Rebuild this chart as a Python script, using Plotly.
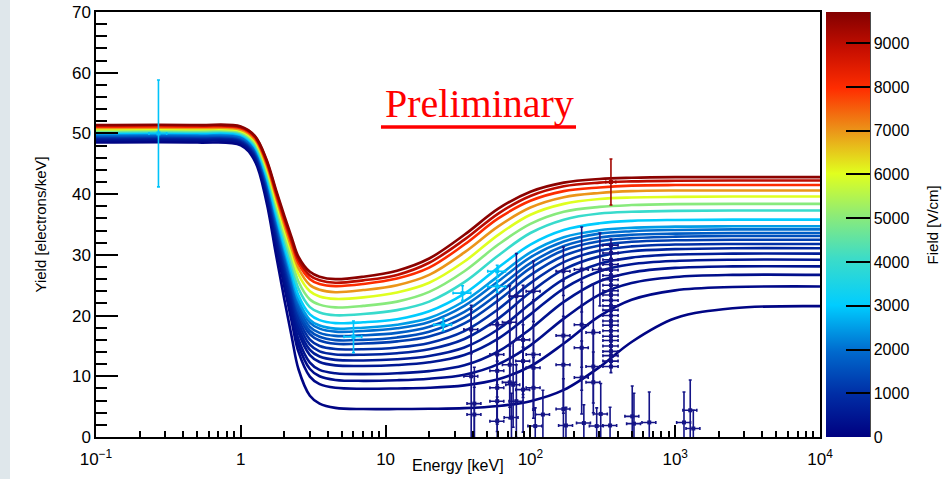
import plotly.graph_objects as go
from plotly.colors import sample_colorscale

# ---------------- data ----------------
ENERGY = [0.1, 0.5, 1.0, 1.25, 1.5, 1.75, 2.0, 2.25, 2.5, 3.0, 3.5, 4.5,
          7, 12, 20, 35, 60, 100, 170, 300, 500, 1000, 2500, 10000]

y_9600 = [51.4, 51.4, 51.15, 49.6, 45.8, 40.7, 36.4, 32.8, 29.7, 27.2, 26.4, 26.0, 26.4, 27.4, 29.4, 33.3, 37.6, 40.4, 41.9, 42.5, 42.7, 42.8, 42.8, 42.8]
y_9000 = [51.3, 51.3, 51.0, 49.5, 45.6, 40.4, 36.0, 32.3, 29.2, 26.6, 25.8, 25.4, 25.8, 26.7, 28.7, 32.5, 36.8, 39.7, 41.3, 41.9, 42.1, 42.2, 42.25, 42.25]
y_8000 = [51.1, 51.1, 50.85, 49.25, 45.3, 40.0, 35.5, 31.8, 28.65, 26.0, 25.2, 24.85, 25.2, 26.1, 27.9, 31.7, 36.0, 38.9, 40.5, 41.1, 41.4, 41.5, 41.5, 41.5]
y_7000 = [50.9, 50.9, 50.6, 49.0, 44.9, 39.5, 34.85, 31.0, 27.8, 25.05, 24.25, 23.85, 24.2, 25.0, 26.7, 30.4, 34.7, 37.8, 39.5, 40.2, 40.5, 40.6, 40.6, 40.6]
y_6000 = [50.7, 50.7, 50.4, 48.75, 44.5, 38.9, 34.1, 30.2, 26.8, 24.0, 23.15, 22.75, 23.0, 23.8, 25.4, 28.9, 33.3, 36.6, 38.4, 39.2, 39.45, 39.55, 39.6, 39.6]
y_5000 = [50.5, 50.5, 50.2, 48.45, 44.05, 38.2, 33.2, 29.1, 25.6, 22.65, 21.8, 21.35, 21.6, 22.3, 23.9, 27.3, 31.7, 35.1, 37.1, 37.9, 38.2, 38.35, 38.4, 38.4]
y_4000 = [50.3, 50.3, 50.0, 48.15, 43.6, 37.55, 32.35, 28.1, 24.45, 21.4, 20.5, 20.05, 20.25, 20.9, 22.3, 25.5, 29.9, 33.6, 35.8, 36.8, 37.1, 37.25, 37.3, 37.3]
y_3000 = [50.1, 50.1, 49.8, 47.9, 43.15, 36.85, 31.5, 27.1, 23.35, 20.2, 19.25, 18.75, 18.9, 19.4, 20.7, 23.6, 27.9, 31.7, 34.1, 35.2, 35.6, 35.75, 35.8, 35.8]
y_2500 = [50.0, 50.0, 49.7, 47.75, 42.9, 36.45, 30.95, 26.4, 22.55, 19.3, 18.35, 17.85, 18.0, 18.5, 19.6, 22.4, 26.5, 30.4, 32.9, 34.05, 34.45, 34.65, 34.7, 34.7]
y_2000 = [49.8, 49.8, 49.45, 47.5, 42.65, 36.1, 30.55, 26.0, 22.1, 18.85, 17.85, 17.35, 17.45, 17.9, 18.95, 21.6, 25.65, 29.6, 32.2, 33.5, 33.9, 34.1, 34.2, 34.2]
y_1750 = [49.7, 49.7, 49.35, 47.4, 42.4, 35.75, 30.1, 25.45, 21.5, 18.15, 17.15, 16.65, 16.75, 17.15, 18.15, 20.6, 24.6, 28.65, 31.45, 32.85, 33.3, 33.5, 33.6, 33.6]
y_1500 = [49.6, 49.6, 49.25, 47.25, 42.15, 35.4, 29.65, 24.95, 20.85, 17.5, 16.5, 15.95, 16.0, 16.4, 17.35, 19.7, 23.6, 27.8, 30.75, 32.25, 32.75, 33.0, 33.1, 33.1]
y_1250 = [49.5, 49.5, 49.15, 47.1, 41.95, 35.1, 29.25, 24.45, 20.35, 16.9, 15.9, 15.35, 15.4, 15.75, 16.55, 18.7, 22.5, 26.65, 29.85, 31.55, 32.15, 32.4, 32.5, 32.5]
y_1000 = [49.4, 49.4, 49.05, 46.95, 41.7, 34.65, 28.7, 23.8, 19.55, 16.05, 15.0, 14.5, 14.45, 14.75, 15.5, 17.45, 21.05, 25.35, 28.8, 30.7, 31.4, 31.7, 31.8, 31.8]
y_800 = [49.3, 49.3, 48.95, 46.8, 41.4, 34.2, 28.1, 23.1, 18.8, 15.2, 14.1, 13.6, 13.55, 13.8, 14.45, 16.15, 19.5, 23.85, 27.6, 29.75, 30.6, 30.95, 31.1, 31.1]
y_600 = [49.2, 49.2, 48.85, 46.65, 41.15, 33.8, 27.55, 22.4, 18.0, 14.35, 13.25, 12.7, 12.6, 12.8, 13.35, 14.75, 17.75, 21.95, 26.0, 28.55, 29.55, 30.05, 30.2, 30.2]
y_500 = [49.1, 49.1, 48.75, 46.5, 40.85, 33.35, 27.0, 21.75, 17.25, 13.5, 12.35, 11.8, 11.7, 11.85, 12.3, 13.5, 16.2, 20.2, 24.45, 27.3, 28.45, 29.0, 29.2, 29.2]
y_400 = [49.0, 49.0, 48.6, 46.3, 40.5, 32.75, 26.15, 20.75, 16.1, 12.25, 11.05, 10.5, 10.35, 10.5, 10.85, 11.8, 14.1, 17.8, 22.25, 25.65, 27.1, 27.85, 28.1, 28.1]
y_300 = [48.9, 48.9, 48.5, 46.1, 40.15, 32.25, 25.5, 19.9, 15.15, 11.2, 10.0, 9.4, 9.25, 9.35, 9.6, 10.25, 12.0, 15.1, 19.5, 23.45, 25.35, 26.35, 26.7, 26.7]
y_200 = [48.8, 48.8, 48.4, 45.95, 39.8, 31.6, 24.65, 18.95, 14.05, 9.95, 8.7, 8.1, 7.95, 8.0, 8.1, 8.5, 9.5, 11.65, 15.4, 19.9, 22.6, 24.15, 24.7, 24.8]
y_100 = [48.5, 48.5, 48.05, 45.45, 38.85, 30.05, 22.6, 16.45, 11.2, 6.8, 5.5, 4.8, 4.6, 4.6, 4.65, 4.75, 5.1, 5.9, 7.75, 11.5, 15.65, 19.55, 21.2, 21.55]

FIELDS = [100, 200, 300, 400, 500, 600, 800, 1000, 1250, 1500, 1750, 2000,
          2500, 3000, 4000, 5000, 6000, 7000, 8000, 9000, 9600]
CURVES = [y_100, y_200, y_300, y_400, y_500, y_600, y_800, y_1000, y_1250, y_1500,
          y_1750, y_2000, y_2500, y_3000, y_4000, y_5000, y_6000, y_7000, y_8000,
          y_9000, y_9600]

# measured points (low field, dark blue)
pts_E = [39, 39, 41, 41, 59, 59, 59, 59, 59, 59, 72, 72, 72, 74, 76, 80, 80,
         89, 89, 89, 105, 105, 105, 105, 108, 122, 169, 169, 169, 169, 176,
         226, 226, 226, 226, 234, 272, 272, 272, 287, 302, 306, 355, 505, 519,
         662, 1150, 1270, 1334]
pts_Y = [17.7, 10.0, 5.5, 3.7, 18.5, 13.6, 10.9, 8.1, 5.9, 2.6, 18.9, 11.9, 9.0,
         3.2, 8.6, 23.2, 5.9, 16.0, 12.5, 7.8, 24.0, 13.6, 11.4, 8.1, 1.8, 3.7,
         27.3, 16.7, 11.9, 4.6, 1.9, 27.6, 18.5, 14.7, 9.8, 2.3, 17.2, 11.6, 9.0,
         1.8, 27.6, 3.8, 1.9, 3.4, 2.2, 2.4, 2.4, 4.4, 1.4]
pts_Yerr = [4.0, 11.0, 6.0, 4.5, 6.0, 5.0, 8.0, 6.0, 5.0, 4.0, 6.0, 7.0, 6.0,
            4.0, 7.0, 7.0, 6.0, 9.0, 6.0, 7.0, 5.0, 9.0, 7.0, 5.0, 3.0, 4.0,
            4.0, 9.0, 8.0, 5.0, 3.0, 7.0, 7.0, 7.0, 6.0, 3.0, 8.0, 6.0, 5.0,
            3.0, 6.0, 5.0, 3.0, 5.0, 5.0, 5.0, 5.0, 5.0, 3.0]

# stacked points at ~360 keV
col_E = [360] * 24
col_Y = [11.6, 12.5, 13.4, 14.1, 15.0, 15.9, 16.6, 17.5, 18.4, 19.1, 20.0, 20.9,
         21.6, 22.5, 23.4, 24.1, 25.0, 25.9, 26.6, 27.5, 28.4, 29.2, 30.3, 31.6]
col_Yerr = [1.0] * 24

# points in the light-blue colour (~3000 V/cm)
cyan_E = [0.27, 6.0, 25, 34, 59, 59]
cyan_Y = [50.0, 16.5, 18.5, 23.7, 27.3, 24.8]
cyan_Yerr = [8.8, 2.6, 1.0, 1.2, 1.0, 1.0]

# high-field point at ~360 keV
red_E = [360]
red_Y = [42.0]
red_Yerr = [3.8]

FIELD_MAX = 9714
CB_TICKS = [0, 1000, 2000, 3000, 4000, 5000, 6000, 7000, 8000, 9000]
X_TICKS = [0.1, 1, 10, 100, 1000, 10000]
X_TICKTEXT = ["10<sup>\u22121</sup>", "1", "10", "10<sup>2</sup>", "10<sup>3</sup>", "10<sup>4</sup>"]

# ---------------- styling ----------------
CS = [[0.0, "rgb(0,0,128)"], [0.1, "rgb(0,45,165)"], [0.2, "rgb(0,105,205)"],
      [0.31, "rgb(0,205,255)"], [0.42, "rgb(60,220,200)"], [0.52, "rgb(140,235,120)"],
      [0.62, "rgb(225,255,30)"], [0.72, "rgb(235,150,25)"], [0.82, "rgb(255,45,0)"],
      [0.91, "rgb(200,15,0)"], [1.0, "rgb(130,0,0)"]]

FONT = "Liberation Sans, Arial, sans-serif"
NAVY = "rgb(20,20,135)"

fig = go.Figure()

for field, ys in zip(FIELDS, CURVES):
    col = sample_colorscale(CS, [field / FIELD_MAX])[0]
    fig.add_trace(go.Scatter(x=ENERGY, y=ys, mode="lines",
                             line=dict(color=col, width=2.6, shape="spline", smoothing=1.0),
                             hoverinfo="skip", showlegend=False))

def add_points(xs, ys, yerr, color, xpct=11):
    fig.add_trace(go.Scatter(
        x=xs, y=ys, mode="markers",
        marker=dict(symbol="square", size=4, color=color),
        error_y=dict(type="data", array=yerr, color=color, thickness=1.6, width=1.5),
        error_x=dict(type="percent", value=xpct, color=color, thickness=1.6, width=1.5),
        showlegend=False, hoverinfo="skip"))

add_points(pts_E, pts_Y, pts_Yerr, NAVY)
add_points(col_E, col_Y, col_Yerr, NAVY, xpct=12)
add_points(cyan_E, cyan_Y, cyan_Yerr, sample_colorscale(CS, [2900 / FIELD_MAX])[0], xpct=14)
add_points(red_E, red_Y, red_Yerr, sample_colorscale(CS, [9300 / FIELD_MAX])[0], xpct=8)

# colour bar holder
fig.add_trace(go.Scatter(
    x=[1], y=[-20], mode="markers",
    marker=dict(size=1, color=[0], cmin=0, cmax=FIELD_MAX, colorscale=CS, showscale=True,
                colorbar=dict(thickness=44, thicknessmode="pixels", len=1, lenmode="fraction",
                              x=1.0083, xanchor="left", y=0.5, yanchor="middle",
                              xpad=0, ypad=0, outlinewidth=0,
                              ticks="inside", ticklen=24, tickwidth=1.5, tickcolor="black",
                              tickvals=CB_TICKS, tickfont=dict(family=FONT, size=16, color="black"))),
    showlegend=False, hoverinfo="skip"))

minor_x = [m * 10 ** k for k in range(-1, 4) for m in range(2, 10)]

fig.update_layout(
    width=943, height=479,
    margin=dict(l=96, r=123, t=12, b=42, autoexpand=False),
    paper_bgcolor="white", plot_bgcolor="white",
    font=dict(family=FONT, color="black"),
    xaxis=dict(type="log", range=[-1, 4], tickmode="array", tickvals=X_TICKS, ticktext=X_TICKTEXT,
               ticks="inside", ticklen=12, tickwidth=1.5, tickcolor="black",
               showline=True, linecolor="black", linewidth=1.5, mirror=True,
               showgrid=False, zeroline=False, tickfont=dict(size=17),
               ticklabelstandoff=6,
               minor=dict(tickmode="array", tickvals=minor_x, ticks="inside", ticklen=6,
                          tickwidth=1.5, tickcolor="black", showgrid=False)),
    yaxis=dict(range=[0, 70], tickmode="array", tickvals=[0, 10, 20, 30, 40, 50, 60, 70],
               ticks="inside", ticklen=22, tickwidth=1.5, tickcolor="black",
               showline=True, linecolor="black", linewidth=1.5, mirror=True,
               showgrid=False, zeroline=False, tickfont=dict(size=17),
               minor=dict(dtick=2, ticks="inside", ticklen=11, tickwidth=1.5,
                          tickcolor="black", showgrid=False)),
    annotations=[
        dict(text="Yield [electrons/keV]", xref="paper", yref="paper", x=-0.0773, y=0.5,
             textangle=-90, showarrow=False, font=dict(size=15), xanchor="center", yanchor="middle"),
        dict(text="Energy [keV]", xref="paper", yref="paper", x=0.5, y=-0.067,
             showarrow=False, font=dict(size=16), xanchor="center", yanchor="middle"),
        dict(text="Field [V/cm]", xref="paper", yref="paper", x=1.156, y=0.5,
             textangle=-90, showarrow=False, font=dict(size=15), xanchor="center", yanchor="middle"),
        dict(text="Preliminary", xref="paper", yref="paper", x=0.53, y=0.785,
             showarrow=False, font=dict(family="Liberation Serif, serif", size=40, color="red"),
             xanchor="center", yanchor="middle"),
    ],
    shapes=[
        dict(type="rect", xref="paper", yref="paper", x0=-0.1326, x1=-0.1188, y0=-0.0988, y1=1.0282,
             fillcolor="#dfe7eb", line=dict(width=0), layer="below"),
        dict(type="line", xref="paper", yref="paper", x0=0.3936, x1=0.663, y0=0.7294, y1=0.7294,
             line=dict(color="red", width=3.5)),
        dict(type="line", xref="paper", yref="paper", x0=1.069, x1=1.069, y0=0, y1=1,
             line=dict(color="black", width=1.5)),
    ],
)

fig.write_html("out.html")
